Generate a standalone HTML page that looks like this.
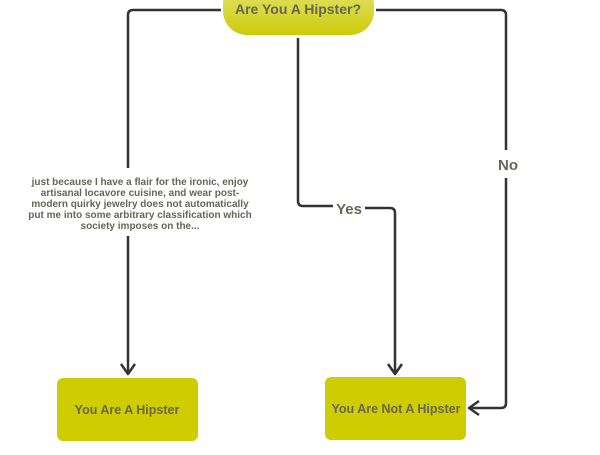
<!DOCTYPE html>
<html><head><style>
body{margin:0;width:600px;height:450px;background:#fff;overflow:hidden;font-family:"Liberation Sans",sans-serif;}
</style></head><body>
<svg width="600" height="450" xmlns="http://www.w3.org/2000/svg">
<defs>
<linearGradient id="g" x1="0" y1="0" x2="0" y2="1"><stop offset="0" stop-color="#e6e67a"/><stop offset="1" stop-color="#cccc0a"/></linearGradient>
</defs>
<g fill="none" stroke="#333" stroke-width="2.5" stroke-linejoin="round">
<path d="M221 10 H133 Q128 10 128 15 V168"/>
<path d="M128 236 V374"/>
<path d="M121 364 L128 374 L135 364"/>
<path d="M298 38 V201 Q298 206 303 206 H333"/>
<path d="M365 208 H390 Q395 208 395 213 V374"/>
<path d="M388 364 L395 374 L402 364"/>
<path d="M376 10 H501 Q506 10 506 15 V150"/>
<path d="M506 178 V403 Q506 408 501 408 H469"/>
<path d="M479 401 L469 408 L479 415"/>
</g>
<rect x="223" y="-20" width="151" height="55" rx="24" fill="url(#g)"/>
<rect x="57" y="378" width="141" height="63" rx="6" fill="#cfcd00"/>
<rect x="325" y="377" width="141" height="63" rx="6" fill="#cfcd00"/>
<g fill="#666655" font-weight="bold" text-anchor="middle">
<text x="298" y="14" font-size="14">Are You A Hipster?</text>
<text x="127" y="414" font-size="12.5">You Are A Hipster</text>
<text x="396" y="413" font-size="12.5">You Are Not A Hipster</text>
<text x="349" y="214" font-size="15">Yes</text>
<text x="508" y="170" font-size="15">No</text>
<g font-size="10">
<text x="140" y="185">just because I have a flair for the ironic, enjoy</text>
<text x="140" y="196">artisanal locavore cuisine, and wear post-</text>
<text x="140" y="207">modern quirky jewelry does not automatically</text>
<text x="140" y="218">put me into some arbitrary classification which</text>
<text x="140" y="229">society imposes on the...</text>
</g>
</g>
</svg>
</body></html>
